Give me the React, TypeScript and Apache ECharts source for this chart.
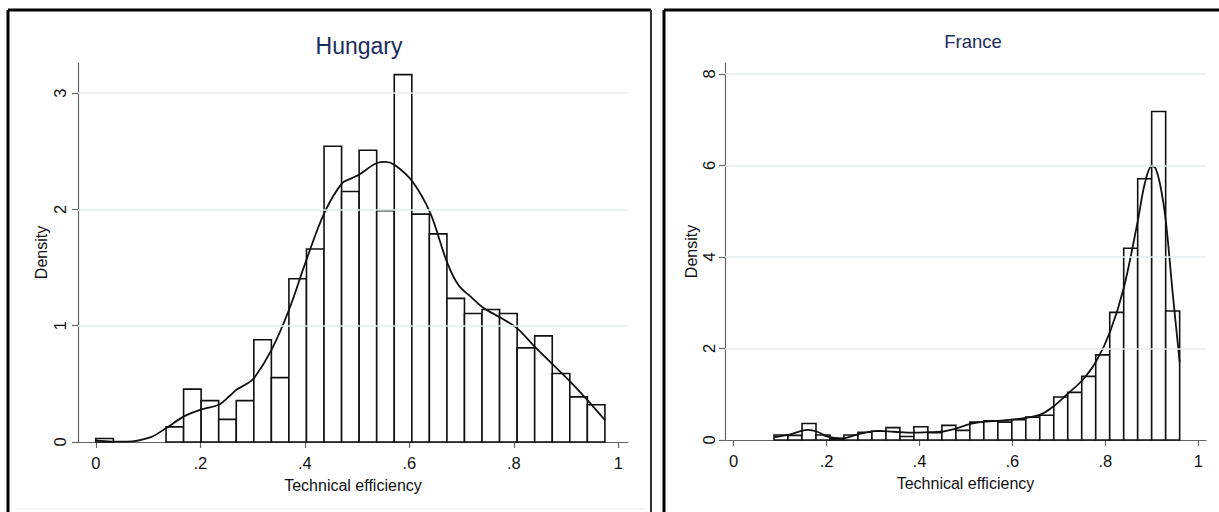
import React, { useEffect, useRef } from "react";
import * as echarts from "echarts";

// ---------- Data ----------
const X_TICKS = [0, 0.2, 0.4, 0.6, 0.8, 1];
const HUN_Y_TICKS = [0, 1, 2, 3];
const FRA_Y_TICKS = [0, 2, 4, 6, 8];

// Hungary histogram (density), bins start at 0 with width 0.0336
const HUN_BIN_START = 0;
const HUN_BIN_WIDTH = 0.0336;
const HUN_HEIGHTS = [
  0.03, 0, 0, 0, 0.13, 0.455, 0.356, 0.195, 0.356, 0.879, 0.554, 1.404, 1.66,
  2.544, 2.155, 2.51, 1.99, 3.16, 1.96, 1.79, 1.235, 1.105, 1.14, 1.105, 0.81,
  0.913, 0.589, 0.388, 0.32,
];
// Hungary kernel density curve
const HUN_KDE_X = [
  0.0, 0.03, 0.06, 0.104, 0.134, 0.168, 0.202, 0.235, 0.257, 0.269, 0.289,
  0.303, 0.336, 0.37, 0.401, 0.437, 0.471, 0.49, 0.504, 0.538, 0.555, 0.573,
  0.606, 0.64, 0.672, 0.694, 0.72, 0.74, 0.774, 0.806, 0.84, 0.874, 0.908,
  0.941, 0.975,
];
const HUN_KDE_Y = [
  0.014, 0.004, 0.004, 0.04, 0.118, 0.218, 0.28, 0.32, 0.4, 0.45, 0.5, 0.55,
  0.79, 1.14, 1.54, 1.967, 2.225, 2.27, 2.3, 2.4, 2.41, 2.38, 2.24, 1.97, 1.55,
  1.35, 1.24, 1.16, 1.07, 0.98, 0.82, 0.67, 0.52, 0.36, 0.185,
];

// France histogram (density), bins start at 0.087 with width 0.0301
const FRA_BIN_START = 0.087;
const FRA_BIN_WIDTH = 0.0301;
const FRA_HEIGHTS = [
  0.11, 0.1, 0.36, 0.11, 0.03, 0.11, 0.17, 0.19, 0.27, 0.075, 0.29, 0.16, 0.32,
  0.21, 0.39, 0.42, 0.39, 0.445, 0.5, 0.54, 0.94, 1.04, 1.39, 1.86, 2.79, 4.19,
  5.71, 7.18, 2.82,
];
// France kernel density curve
const FRA_KDE_X = [
  0.087, 0.117, 0.14, 0.1605, 0.18, 0.2023, 0.2324, 0.269, 0.311, 0.345, 0.387,
  0.42, 0.445, 0.474, 0.51, 0.539, 0.6, 0.66, 0.69, 0.72, 0.75, 0.78, 0.81,
  0.84, 0.87, 0.885, 0.9, 0.908, 0.919, 0.93, 0.945, 0.96,
];
const FRA_KDE_Y = [
  0.06, 0.11, 0.18, 0.22, 0.18, 0.073, 0.036, 0.13, 0.2, 0.18, 0.16, 0.17, 0.18,
  0.24, 0.35, 0.4, 0.445, 0.555, 0.75, 1.02, 1.3, 1.715, 2.36, 3.34, 4.8, 5.61,
  5.99, 5.94, 5.53, 4.8, 3.2, 1.7,
];

const FONT = "'Liberation Sans', Arial, Helvetica, sans-serif";
const TEXT = "#111";
const AXIS = "#666";
const GRIDC = "#e6eef0";
const TITLE_C = "#1c2c5c";

const fmtX = (v: number) => {
  if (v === 0) return "0";
  if (v === 1) return "1";
  return String(+v.toFixed(1)).replace(/^0\./, ".");
};

function binData(start: number, width: number, heights: number[]) {
  const out: number[][] = [];
  heights.forEach((h, i) => {
    if (h > 0) out.push([start + i * width, start + (i + 1) * width, h]);
  });
  return out;
}

const renderBar = (params: any, api: any) => {
  const x0 = api.value(0);
  const x1 = api.value(1);
  const h = api.value(2);
  const p0 = api.coord([x0, h]);
  const p1 = api.coord([x1, 0]);
  return {
    type: "rect",
    shape: { x: p0[0], y: p0[1], width: p1[0] - p0[0], height: p1[1] - p0[1] },
    style: { fill: "#ffffff", stroke: "#111", lineWidth: 1.6 },
  };
};

function xAxisCfg(gridIndex: number, min: number, max: number) {
  return {
    type: "value",
    gridIndex,
    min,
    max,
    name: "Technical efficiency",
    nameLocation: "middle",
    nameGap: 35,
    nameTextStyle: { fontFamily: FONT, fontSize: 16, color: TEXT },
    axisLine: { show: true, onZero: false, lineStyle: { color: AXIS, width: 1.2 } },
    axisTick: { show: true, length: 6, customValues: X_TICKS, lineStyle: { color: AXIS, width: 1.2 } },
    axisLabel: {
      customValues: X_TICKS,
      formatter: fmtX,
      margin: 12,
      fontFamily: FONT,
      fontSize: 16.5,
      color: TEXT,
    },
    splitLine: { show: false },
  };
}

function yAxisCfg(gridIndex: number, max: number, ticks: number[], labelMargin: number, nameGap: number) {
  return {
    type: "value",
    gridIndex,
    min: 0,
    max,
    name: "Density",
    nameLocation: "middle",
    nameRotate: 90,
    nameGap,
    nameTextStyle: { fontFamily: FONT, fontSize: 16, color: TEXT },
    axisLine: { show: true, onZero: false, lineStyle: { color: AXIS, width: 1.2 } },
    axisTick: { show: true, length: 6, customValues: ticks, lineStyle: { color: AXIS, width: 1.2 } },
    axisLabel: {
      customValues: ticks,
      rotate: 90,
      margin: labelMargin,
      fontFamily: FONT,
      fontSize: 16.5,
      color: TEXT,
      formatter: (v: number) => String(v),
    },
    splitLine: { show: false },
  };
}

function gridLines(ticks: number[]) {
  return {
    silent: true,
    symbol: "none",
    label: { show: false },
    lineStyle: { color: GRIDC, width: 1.5, type: "solid" },
    data: ticks.filter((t) => t > 0).map((t) => ({ yAxis: t })),
  };
}

export default function App() {
  const ref = useRef<HTMLDivElement>(null);

  useEffect(() => {
    if (!ref.current) return;
    const chart = echarts.init(ref.current, null, { renderer: "svg" });

    const hunLine = HUN_KDE_X.map((x, i) => [x, HUN_KDE_Y[i]]);
    const fraLine = FRA_KDE_X.map((x, i) => [x, FRA_KDE_Y[i]]);

    chart.setOption({
      animation: false,
      backgroundColor: "#ffffff",
      title: [
        {
          text: "Hungary",
          left: 354,
          top: 29,
          textAlign: "center",
          textStyle: { fontFamily: FONT, fontSize: 23, fontWeight: "normal", color: TITLE_C },
        },
        {
          text: "France",
          left: 968,
          top: 27,
          textAlign: "center",
          textStyle: { fontFamily: FONT, fontSize: 18.5, fontWeight: "normal", color: TITLE_C },
        },
      ],
      grid: [
        { left: 78, top: 63, width: 550, height: 379, containLabel: false, outerBoundsMode: "none" },
        { left: 725, top: 63, width: 481, height: 377, containLabel: false, outerBoundsMode: "none" },
      ],
      xAxis: [xAxisCfg(0, -0.0341, 1.0186), xAxisCfg(1, -0.0185, 1.0166)],
      yAxis: [yAxisCfg(0, 3.26, HUN_Y_TICKS, 10, 29), yAxisCfg(1, 8.24, FRA_Y_TICKS, 8, 24)],
      series: [
        {
          type: "custom",
          xAxisIndex: 0,
          yAxisIndex: 0,
          renderItem: renderBar,
          encode: { x: [0, 1], y: 2 },
          data: binData(HUN_BIN_START, HUN_BIN_WIDTH, HUN_HEIGHTS),
          markLine: gridLines(HUN_Y_TICKS),
          z: 2,
        },
        {
          type: "line",
          xAxisIndex: 0,
          yAxisIndex: 0,
          data: hunLine,
          smooth: 0.35,
          symbol: "none",
          lineStyle: { color: "#111", width: 1.8 },
          z: 3,
        },
        {
          type: "custom",
          xAxisIndex: 1,
          yAxisIndex: 1,
          renderItem: renderBar,
          encode: { x: [0, 1], y: 2 },
          data: binData(FRA_BIN_START, FRA_BIN_WIDTH, FRA_HEIGHTS),
          markLine: gridLines(FRA_Y_TICKS),
          z: 2,
        },
        {
          type: "line",
          xAxisIndex: 1,
          yAxisIndex: 1,
          data: fraLine,
          smooth: 0.35,
          symbol: "none",
          lineStyle: { color: "#111", width: 1.8 },
          z: 3,
        },
      ],
      graphic: [
        { type: "line", shape: { x1: 8, y1: 10, x2: 651, y2: 10 }, style: { stroke: "#000", lineWidth: 3 } },
        { type: "line", shape: { x1: 8, y1: 10, x2: 8, y2: 512 }, style: { stroke: "#000", lineWidth: 3 } },
        { type: "line", shape: { x1: 651, y1: 10, x2: 651, y2: 512 }, style: { stroke: "#333", lineWidth: 2 } },
        { type: "line", shape: { x1: 15, y1: 509, x2: 645, y2: 509 }, style: { stroke: "#ececec", lineWidth: 1 } },
        { type: "line", shape: { x1: 664, y1: 10, x2: 1219, y2: 10 }, style: { stroke: "#000", lineWidth: 3 } },
        { type: "line", shape: { x1: 664, y1: 10, x2: 664, y2: 512 }, style: { stroke: "#000", lineWidth: 3 } },
      ],
    });

    return () => chart.dispose();
  }, []);

  return (
    <div
      ref={ref}
      style={{ position: "fixed", left: 0, top: 0, width: 1219, height: 512, background: "#fff" }}
    />
  );
}
